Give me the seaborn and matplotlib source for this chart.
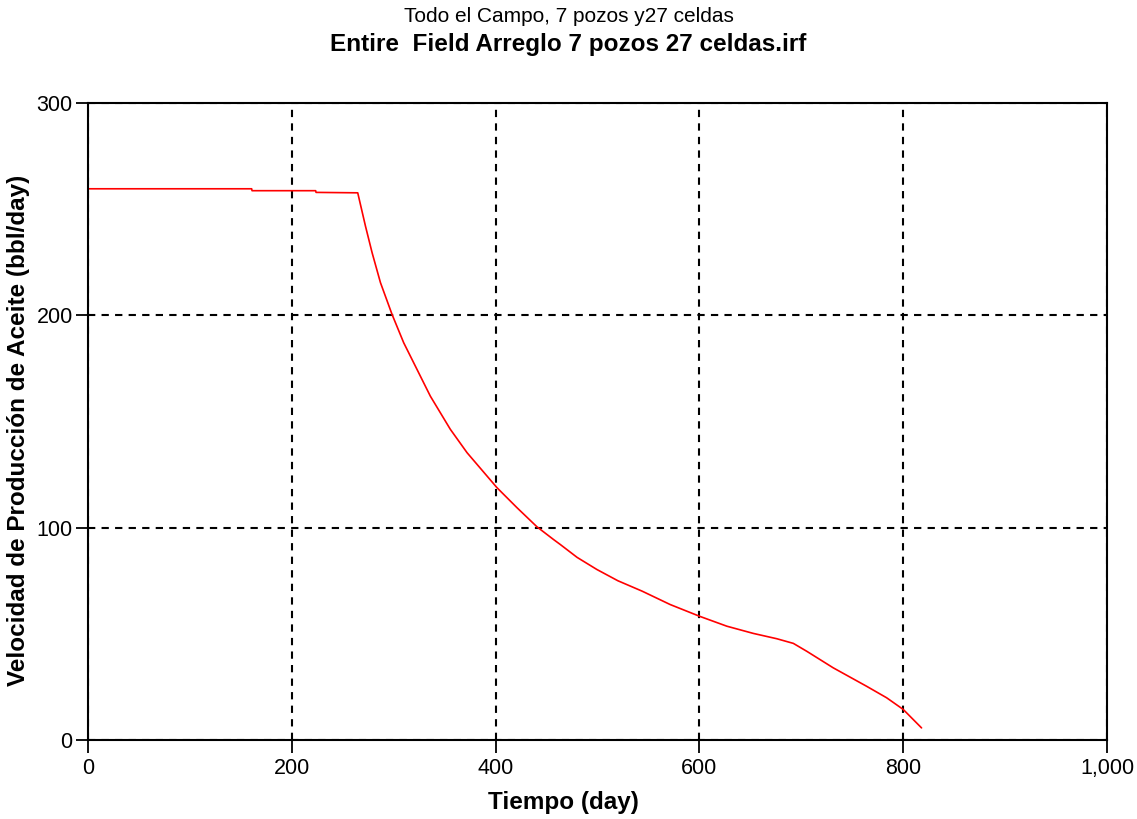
import matplotlib
matplotlib.use("Agg")
import matplotlib.pyplot as plt
import matplotlib.ticker as mticker
import seaborn as sns
import pandas as pd

# Data
tiempo = [0, 160.6, 161.0, 223.4, 223.8, 264.7, 272.3, 278.8, 287.0, 298.4, 309.8,
          322.9, 336.0, 355.6, 372.0, 391.6, 401.4, 421.0, 440.6, 456.9, 463.4,
          480.0, 499.4, 520.0, 543.8, 571.3, 600.0, 626.9, 652.9, 675.9, 692.2, 705.3, 731.3,
          764.1, 783.7, 800.0, 818.0]
aceite = [259.6, 259.6, 258.7, 258.7, 257.9, 257.7, 242.0, 229.5, 215.4, 200.4, 187.1,
          174.5, 161.9, 146.3, 135.3, 124.3, 118.8, 109.4, 100.4, 94.4, 92.1,
          86.0, 80.3, 75.0, 70.1, 63.8, 58.3, 53.6, 50.2, 47.7, 45.5, 41.8, 34.0,
          25.3, 19.9, 14.4, 5.7]
x_ticks = [0, 200, 400, 600, 800, 1000]
y_ticks = [0, 100, 200, 300]

title1 = "Todo el Campo, 7 pozos y27 celdas"
title2 = "Entire  Field Arreglo 7 pozos 27 celdas.irf"
xlabel = "Tiempo (day)"
ylabel = "Velocidad de Producción de Aceite (bbl/day)"

sns.set_style("white")
plt.rcParams['font.family'] = ['Liberation Sans', 'DejaVu Sans']
plt.rcParams['text.color'] = 'black'
plt.rcParams['axes.labelcolor'] = 'black'

df = pd.DataFrame({"Tiempo": tiempo, "Aceite": aceite})

fig = plt.figure(figsize=(11.37, 8.19), dpi=100)
ax = fig.add_axes([88/1137, 1 - 740/819, (1107-88)/1137, (740-103)/819])

sns.lineplot(data=df, x="Tiempo", y="Aceite", ax=ax, color="#ff0000", linewidth=1.2)

ax.set_xlim(0, 1000)
ax.set_ylim(0, 300)
ax.set_xticks(x_ticks)
ax.set_yticks(y_ticks)
ax.xaxis.set_major_formatter(mticker.FuncFormatter(lambda v, p: f"{int(v):,}"))
ax.grid(True, color="black", linestyle=(0, (3.5, 3)), linewidth=1.5)
for s in ax.spines.values():
    s.set_color("black")
    s.set_linewidth(1.5)
    s.set_visible(True)
ax.tick_params(axis="both", direction="out", length=9, width=1.3, colors="black",
               labelsize=15.5, bottom=True, left=True)
ax.tick_params(axis="y", pad=2)
ax.tick_params(axis="x", pad=4)

ax.set_xlabel(xlabel, fontsize=17.5, fontweight="bold", va="center")
ax.set_ylabel(ylabel, fontsize=17.5, fontweight="bold", va="center")
ax.xaxis.set_label_coords((563 - 88) / 1019, -(803 - 740) / 637)
ax.yaxis.set_label_coords((19 - 88) / 1019, (740 - 430) / 637)

fig.text(0.5, 1 - 17/819, title1, ha="center", va="center", fontsize=15)
fig.text(0.5, 1 - 44/819, title2, ha="center", va="center", fontsize=17.5, fontweight="bold")

fig.savefig("out.png", dpi=100)
